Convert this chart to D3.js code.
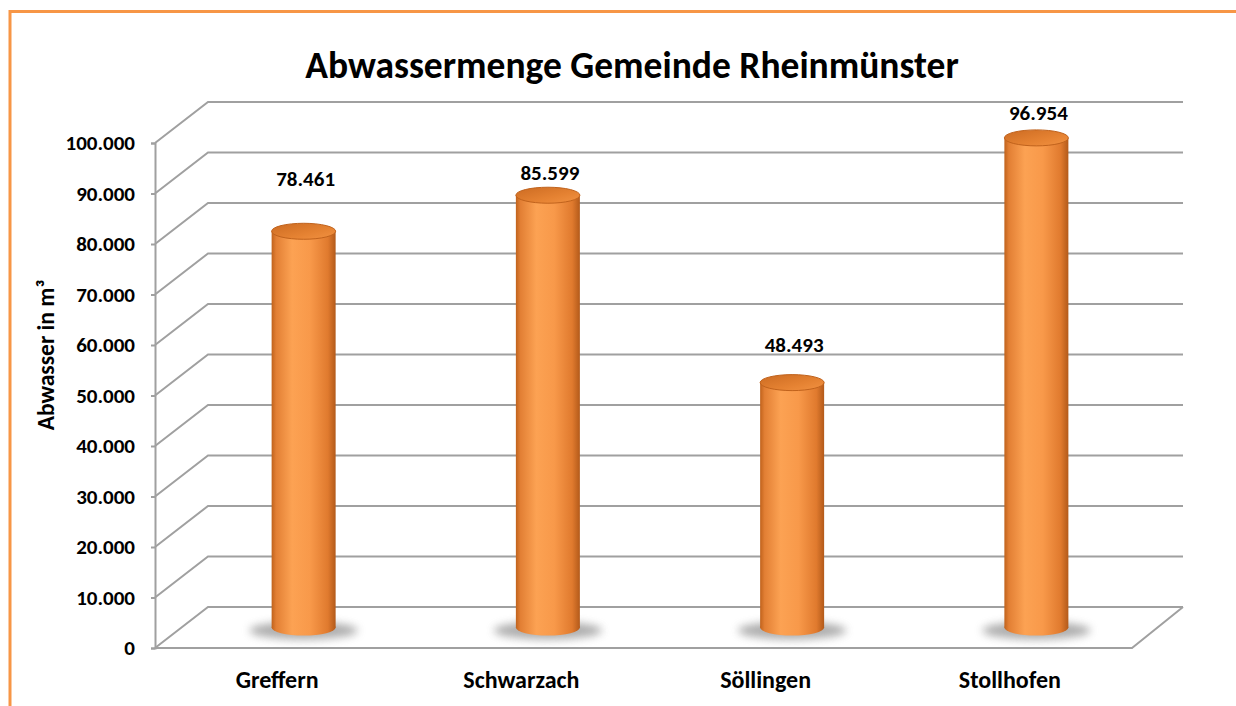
<!DOCTYPE html>
<html>
<head>
<meta charset="utf-8">
<script src="https://cdn.jsdelivr.net/npm/d3@7"></script>
<style>
  html, body { margin: 0; padding: 0; background: #fff; }
  svg { display: block; font-family: Carlito, "Open Sans", sans-serif; }
</style>
</head>
<body>
<svg id="chart" width="1236" height="706"></svg>
<script>
// chart data
const categories = ['Greffern', 'Schwarzach', 'Söllingen', 'Stollhofen'];
const values = [78461, 85599, 48493, 96954];
const valueLabels = ['78.461', '85.599', '48.493', '96.954'];
const yTicks = [0, 10000, 20000, 30000, 40000, 50000, 60000, 70000, 80000, 90000, 100000];
const chartTitle = 'Abwassermenge Gemeinde Rheinmünster';
const yTitle = 'Abwasser in m³';

// layout (not data)
const labelLift = [53, 23, 38, 25]; // how far each value label sits above its bar top
const depth = { dx: 53, dy: -41 };
const orange = '#f79646';
const gridColor = '#a0a0a0';

const svg = d3.select('#chart');
const defs = svg.append('defs');

// body gradient across the cylinder
const bodyGrad = defs.append('linearGradient').attr('id', 'cyl').attr('x1', 0).attr('x2', 1).attr('y1', 0).attr('y2', 0);
[[0, '#c0621c'], [0.07, '#e27f34'], [0.32, '#fca253'], [0.6, '#f8994a'], [0.88, '#e07a2e'], [1, '#b35a1a']]
  .forEach(([o, c]) => bodyGrad.append('stop').attr('offset', o).attr('stop-color', c));

const topGrad = defs.append('linearGradient').attr('id', 'cyltop').attr('x1', 0).attr('x2', 1).attr('y1', 0).attr('y2', 1);
[[0, '#cc6b22'], [0.6, '#e58232'], [1, '#f29242']]
  .forEach(([o, c]) => topGrad.append('stop').attr('offset', o).attr('stop-color', c));

defs.append('filter').attr('id', 'blur').attr('x', '-50%').attr('y', '-100%').attr('width', '200%').attr('height', '300%')
  .append('feGaussianBlur').attr('stdDeviation', 4);

// orange frame (only top and left edges visible)
svg.append('path')
  .attr('d', 'M10,706 L10,11.5 L1236,11.5')
  .attr('fill', 'none')
  .attr('stroke', orange)
  .attr('stroke-width', 3);

// scales
const x = d3.scaleBand().domain(categories).range([155, 1132]);
const y = d3.scaleLinear().domain([0, 100000]).range([648, 143]);
const backRight = 1183;

const g = svg.append('g');

// back wall gridlines with diagonal side-wall segments
const grid = g.append('g').attr('class', 'grid');
yTicks.forEach(t => {
  const yy = y(t);
  grid.append('path')
    .attr('d', `M155,${yy} L${155 + depth.dx},${yy + depth.dy} L${backRight},${yy + depth.dy}`)
    .attr('fill', 'none')
    .attr('stroke', gridColor)
    .attr('stroke-width', 2);
});

// floor front and right edge
grid.append('path')
  .attr('d', `M155,${y(0)} L1132,${y(0)} L${backRight},${y(0) + depth.dy}`)
  .attr('fill', 'none')
  .attr('stroke', gridColor)
  .attr('stroke-width', 2);

// y axis
const yAxis = d3.axisLeft(y).tickValues(yTicks).tickSize(4).tickPadding(16)
  .tickFormat(d => d === 0 ? '0' : d3.format(',')(d).replace(/,/g, '.'));
const axisG = g.append('g').attr('transform', 'translate(155,0)').call(yAxis);
axisG.select('.domain').attr('stroke', gridColor).attr('stroke-width', 2);
axisG.selectAll('.tick line').attr('stroke', gridColor).attr('stroke-width', 2);
axisG.selectAll('.tick text')
  .attr('font-size', 21).attr('font-weight', 'bold').attr('fill', '#000')
  .attr('font-family', 'Carlito, "Open Sans", sans-serif');

// cylinders
const rx = 32, ry = 8;
const bars = g.append('g').attr('class', 'bars');
categories.forEach((c, i) => {
  const cx = x(c) + x.bandwidth() / 2 + depth.dx / 2;
  const base = y(0) + depth.dy / 2;
  const top = y(values[i]) + depth.dy / 2;
  const b = bars.append('g');
  b.append('ellipse')
    .attr('cx', cx).attr('cy', base + 3).attr('rx', rx + 22).attr('ry', ry + 1)
    .attr('fill', '#777').attr('opacity', 0.6).attr('filter', 'url(#blur)');
  b.append('ellipse')
    .attr('cx', cx).attr('cy', base).attr('rx', rx).attr('ry', ry)
    .attr('fill', 'url(#cyl)');
  b.append('rect')
    .attr('x', cx - rx).attr('y', top).attr('width', rx * 2).attr('height', base - top)
    .attr('fill', 'url(#cyl)');
  b.append('ellipse')
    .attr('cx', cx).attr('cy', top).attr('rx', rx).attr('ry', ry)
    .attr('fill', 'url(#cyltop)').attr('stroke', '#c0621c').attr('stroke-width', 1);

  g.append('text')
    .attr('x', cx + 2).attr('y', top - labelLift[i])
    .attr('text-anchor', 'middle').attr('dy', '0.35em')
    .attr('font-size', 21).attr('font-weight', 'bold')
    .text(valueLabels[i]);

  g.append('text')
    .attr('x', x(c) + x.bandwidth() / 2).attr('y', 688)
    .attr('text-anchor', 'middle')
    .attr('font-size', 24).attr('font-weight', 'bold')
    .text(c);
});

// titles
svg.append('text')
  .attr('x', 632).attr('y', 78)
  .attr('text-anchor', 'middle')
  .attr('font-size', 37.5).attr('font-weight', 'bold')
  .text(chartTitle);

svg.append('text')
  .attr('transform', 'translate(54,355) rotate(-90)')
  .attr('text-anchor', 'middle')
  .attr('font-size', 23.5).attr('font-weight', 'bold')
  .text(yTitle);
</script>
</body>
</html>
